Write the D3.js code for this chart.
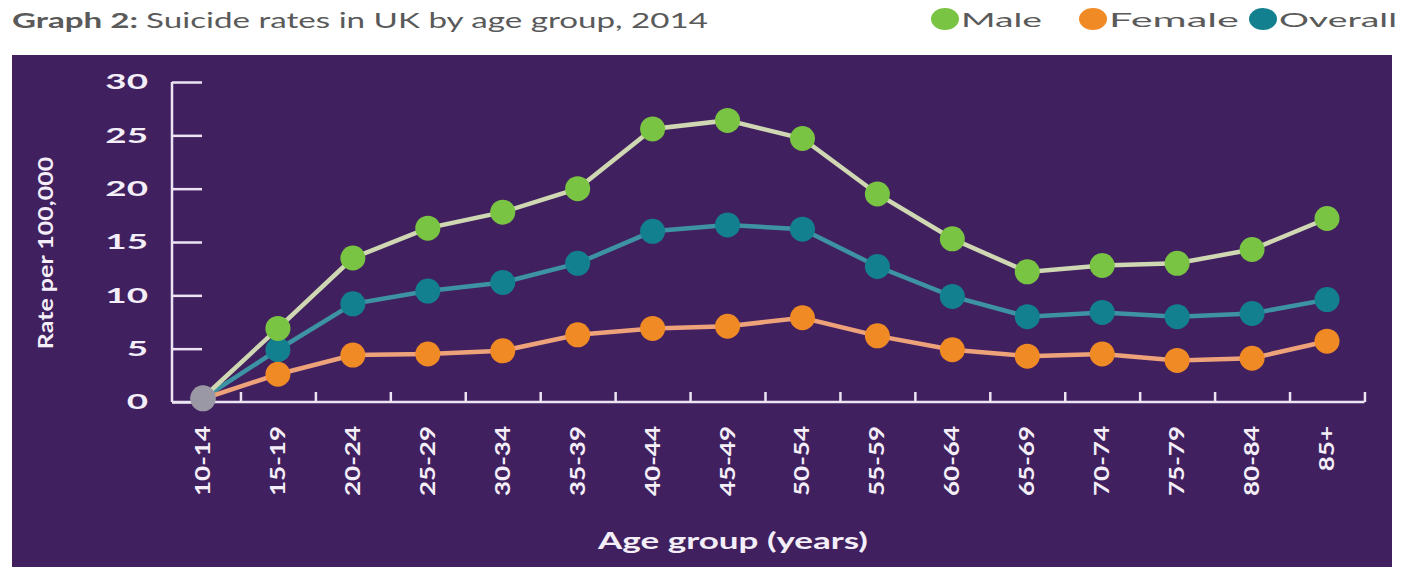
<!DOCTYPE html>
<html lang="en">
<head>
    <meta charset="UTF-8">
    <title>Suicide rates in UK by age group, 2014</title>
    <script src="https://d3js.org/d3.v7.min.js"></script>
    <style>
        body { margin: 0; background: #fff; }
        svg text { font-family: Lato, "Open Sans", sans-serif; }
    </style>
</head>
<body>
    <svg width="1405" height="569" id="mainsvg"></svg>

    <script>
        // data
        const ageGroups = ['10-14', '15-19', '20-24', '25-29', '30-34', '35-39', '40-44', '45-49',
            '50-54', '55-59', '60-64', '65-69', '70-74', '75-79', '80-84', '85+']
        const male = [0.4, 6.9, 13.5, 16.3, 17.8, 20.0, 25.6, 26.4, 24.7, 19.5, 15.3, 12.2, 12.8, 13.0, 14.3, 17.2]
        const female = [0.3, 2.6, 4.4, 4.5, 4.8, 6.3, 6.9, 7.1, 7.9, 6.2, 4.9, 4.3, 4.5, 3.9, 4.1, 5.7]
        const overall = [0.35, 4.9, 9.2, 10.4, 11.2, 13.0, 16.0, 16.6, 16.2, 12.7, 9.9, 8.0, 8.4, 8.0, 8.3, 9.6]
        const yTicks = [0, 5, 10, 15, 20, 25, 30]

        const series = [
            { name: 'Overall', values: overall, dot: '#12808e', line: '#3d93a3' },
            { name: 'Female', values: female, dot: '#f08a24', line: '#eea27a' },
            { name: 'Male', values: male, dot: '#7ac443', line: '#cfd8b2' }
        ]
        const legendOrder = ['Male', 'Female', 'Overall']

        const svg = d3.select('#mainsvg')
        const axisColor = '#ece4f2'
        const labelColor = '#f4eef8'

        // the original artwork is stretched wide, so widen the text the same way
        function stretch(sel, k) {
            sel.each(function () {
                const len = this.getComputedTextLength()
                d3.select(this).attr('textLength', len * k).attr('lengthAdjust', 'spacingAndGlyphs')
            })
        }

        // title
        const title = svg.append('text').attr('x', 12).attr('y', 28)
            .attr('font-size', 21).attr('fill', '#5a5a5a')
        title.append('tspan').attr('font-weight', 'bold').text('Graph 2: ')
        title.append('tspan').text('Suicide rates in UK by age group, 2014')
        title.attr('textLength', 696).attr('lengthAdjust', 'spacingAndGlyphs')

        // legend
        const legendX = [945, 1093, 1263]
        const legendW = [81, 130, 118]
        legendOrder.forEach((name, i) => {
            const s = series.find(d => d.name === name)
            svg.append('ellipse').attr('cx', legendX[i]).attr('cy', 19).attr('rx', 14).attr('ry', 11).attr('fill', s.dot)
            svg.append('text').attr('x', legendX[i] + 16).attr('y', 27)
                .attr('font-size', 20).attr('fill', '#5a5a5a').text(name)
                .attr('textLength', legendW[i]).attr('lengthAdjust', 'spacingAndGlyphs')
        })

        // panel
        svg.append('rect').attr('x', 12).attr('y', 55).attr('width', 1380).attr('height', 512)
            .attr('fill', '#40205f')

        // scales
        const xIdx = d3.scaleLinear().domain([0, ageGroups.length - 1]).range([203, 1327])
        const x = (cat) => xIdx(ageGroups.indexOf(cat))
        const y = d3.scaleLinear().domain([0, 30]).range([402, 82])
        const x0 = 172, x1 = xIdx(ageGroups.length - 0.5)

        // y axis
        const yAxis = d3.axisLeft(y).tickValues(yTicks).tickSize(-30).tickPadding(24)
        const gy = svg.append('g').attr('transform', `translate(${x0},0)`).call(yAxis)
        gy.select('.domain').remove()
        gy.selectAll('.tick line').attr('stroke', axisColor).attr('stroke-width', 2.5)
        gy.selectAll('.tick text').attr('fill', labelColor).attr('font-size', 21).attr('font-weight', 'bold')
            .call(stretch, 1.75)
        svg.append('line').attr('x1', x0).attr('x2', x0).attr('y1', y(30)).attr('y2', y(0))
            .attr('stroke', axisColor).attr('stroke-width', 2.5)

        // x axis: ticks between groups
        const boundaries = d3.range(ageGroups.length).map(i => i + 0.5)
        const xAxis = d3.axisBottom(xIdx).tickValues(boundaries).tickSize(-10).tickFormat('')
        const gx = svg.append('g').attr('transform', `translate(0,${y(0)})`).call(xAxis)
        gx.select('.domain').remove()
        gx.selectAll('.tick line').attr('stroke', axisColor).attr('stroke-width', 2.5)
        svg.append('line').attr('x1', x0).attr('x2', x1).attr('y1', y(0)).attr('y2', y(0))
            .attr('stroke', axisColor).attr('stroke-width', 2.5)

        // x labels
        svg.append('g').selectAll('text').data(ageGroups).join('text')
            .attr('transform', d => `translate(${x(d) + 7},${y(0) + 24}) rotate(-90)`)
            .attr('text-anchor', 'end')
            .attr('font-size', 20).attr('font-weight', 'bold').attr('fill', labelColor)
            .text(d => d)
            .call(stretch, 1.3)

        // axis titles
        svg.append('text').attr('transform', `translate(53,253) rotate(-90)`)
            .attr('text-anchor', 'middle').attr('font-size', 20).attr('font-weight', 'bold')
            .attr('fill', labelColor).text('Rate per 100,000')
            .call(stretch, 1.25)
        svg.append('text').attr('x', 733).attr('y', 549)
            .attr('text-anchor', 'middle').attr('font-size', 22).attr('font-weight', 'bold')
            .attr('fill', labelColor).text('Age group (years)')
            .attr('textLength', 270).attr('lengthAdjust', 'spacingAndGlyphs')

        // lines and points
        const line = d3.line().x((d, i) => xIdx(i)).y(d => y(d))
        series.forEach(s => {
            svg.append('path').datum(s.values)
                .attr('d', line).attr('fill', 'none')
                .attr('stroke', s.line).attr('stroke-width', 4.5)
        })
        series.forEach(s => {
            svg.append('g').selectAll('circle').data(s.values).join('circle')
                .attr('cx', (d, i) => xIdx(i)).attr('cy', d => y(d)).attr('r', 12.5)
                .attr('fill', (d, i) => i === 0 ? '#9a98a4' : s.dot)
        })
    </script>
</body>
</html>
